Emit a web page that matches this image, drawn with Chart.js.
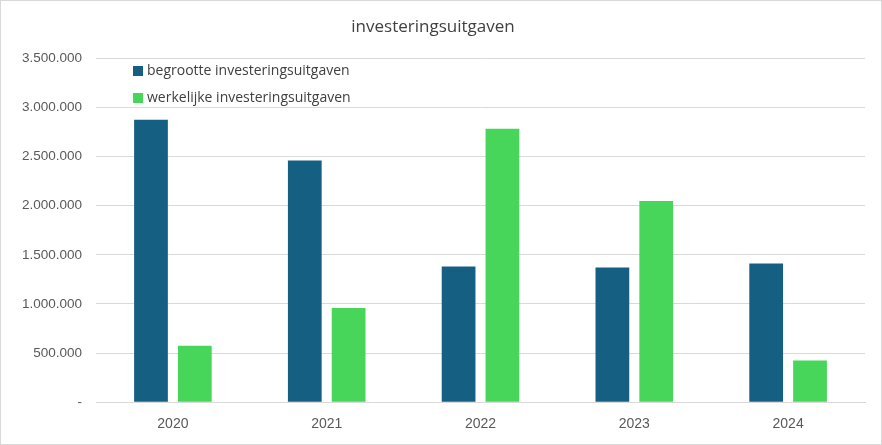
<!DOCTYPE html>
<html>
<head>
<meta charset="utf-8">
<script src="https://cdn.jsdelivr.net/npm/chart.js@4"></script>
<style>
  html, body { margin: 0; padding: 0; background: #fff; }
  #wrap { position: relative; width: 880px; height: 443px; border: 1px solid #d9d9d9; }
</style>
</head>
<body>
<div id="wrap"><canvas id="investChart"></canvas></div>
<script>
const jaren = ['2020', '2021', '2022', '2023', '2024'];
const begroot = [2875000, 2461000, 1382000, 1372000, 1412000];
const werkelijk = [575000, 958000, 2784000, 2048000, 424000];
const reeksNamen = ['begrootte investeringsuitgaven', 'werkelijke investeringsuitgaven'];

function formatNL(v) {
    if (v === 0) return '-';
    return String(v).replace(/\B(?=(\d{3})+(?!\d))/g, '.');
}

// Legenda binnen het plotgebied tekenen, linksboven
const legendaBinnen = {
    id: 'legendaBinnen',
    afterDraw(chart) {
        const ctx = chart.ctx;
        ctx.save();
        ctx.font = '14px "Open Sans", sans-serif';
        ctx.textBaseline = 'middle';
        chart.data.datasets.forEach((ds, i) => {
            const y = 70 + i * 27;
            ctx.fillStyle = ds.backgroundColor;
            ctx.fillRect(132, y - 5, 10, 10);
            ctx.fillStyle = '#404040';
            ctx.fillText(ds.label, 146, y);
        });
        ctx.restore();
    }
};

const ctx = document.getElementById('investChart').getContext('2d');
new Chart(ctx, {
    type: 'bar',
    data: {
        labels: jaren,
        datasets: [{
            label: reeksNamen[0],
            data: begroot,
            backgroundColor: '#156082',
            barPercentage: 0.77,
            categoryPercentage: 0.57
        }, {
            label: reeksNamen[1],
            data: werkelijk,
            backgroundColor: '#47d55a',
            barPercentage: 0.77,
            categoryPercentage: 0.57
        }]
    },
    options: {
        responsive: true,
        maintainAspectRatio: false,
        animation: false,
        layout: { padding: { left: 0, right: 16, top: 0, bottom: 5 } },
        plugins: {
            legend: { display: false },
            tooltip: { enabled: false },
            title: {
                display: true,
                text: 'investeringsuitgaven',
                color: '#404040',
                font: { family: '"Open Sans", sans-serif', size: 17, weight: 'normal' },
                padding: { top: 16, bottom: 21 }
            }
        },
        scales: {
            x: {
                grid: { display: false },
                border: { color: '#d9d9d9' },
                ticks: { color: '#595959', font: { family: '"Liberation Sans", Arial, sans-serif', size: 14 }, padding: 6 }
            },
            y: {
                min: 0,
                max: 3500000,
                afterFit(scale) { scale.width = 95; },
                grid: { color: '#d9d9d9', drawTicks: false },
                border: { display: false },
                ticks: {
                    stepSize: 500000,
                    color: '#595959',
                    padding: 14,
                    font: { family: '"Liberation Sans", Arial, sans-serif', size: 13.5 },
                    callback: v => formatNL(v)
                }
            }
        }
    },
    plugins: [legendaBinnen]
});
</script>
</body>
</html>
